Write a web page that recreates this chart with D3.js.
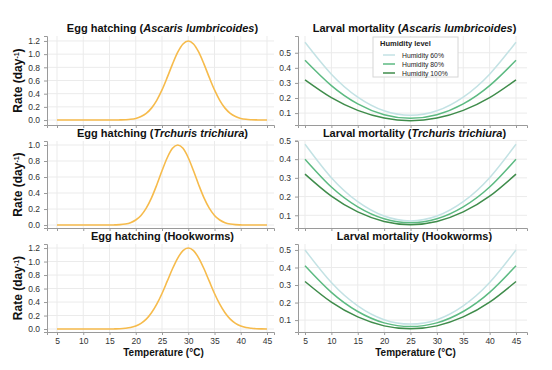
<!DOCTYPE html>
<html>
<head>
<meta charset="utf-8">
<script src="https://cdn.jsdelivr.net/npm/d3@7"></script>
<style>
  body { margin: 0; background: #fff; }
  svg { display: block; font-family: "Liberation Sans", Arial, sans-serif; }
</style>
</head>
<body>
<svg id="chart" width="552" height="370"></svg>
<script>
// temperatures (°C) for the hatching curves
const hatchTemps = [5,6,7,8,9,10,11,12,13,14,15,16,17,18,19,20,21,22,23,24,25,
  26,27,28,29,30,31,32,33,34,35,36,37,38,39,40,41,42,43,44,45];

const hatchAscaris = [0,0,0,0,0,0,0,0,0,0,0,0,0.002,0.005,0.011,0.025,0.053,0.102,0.181,0.299,0.457,
  0.647,0.848,1.029,1.154,1.2,1.154,1.029,0.848,0.647,0.457,0.299,0.181,0.102,0.053,0.025,0.011,0.005,0.002,0,0];
const hatchTrichuris = [0,0,0,0,0,0,0,0,0,0,0,0.002,0.005,0.013,0.030,0.063,0.120,0.211,0.339,0.501,0.678,
  0.841,0.958,1.0,0.958,0.841,0.678,0.501,0.339,0.211,0.120,0.063,0.030,0.013,0.005,0.002,0,0,0,0,0];
const hatchHookworm = [0,0,0,0,0,0,0,0,0,0,0,0.002,0.005,0.011,0.022,0.045,0.084,0.146,0.240,0.368,0.527,
  0.709,0.893,1.052,1.161,1.2,1.161,1.052,0.893,0.709,0.527,0.368,0.240,0.146,0.084,0.045,0.022,0.011,0.005,0.002,0];

// larval mortality, read every 5 °C
const mortTemps = [5,10,15,20,25,30,35,40,45];
const humidityLevels = ["Humidity 60%", "Humidity 80%", "Humidity 100%"];
const humidityColors = ["#c3e2e4", "#5cba82", "#3f8c4b"];

const mortAscaris60  = [0.57,0.358,0.206,0.115,0.085,0.115,0.206,0.358,0.57];
const mortAscaris80  = [0.45,0.282,0.161,0.089,0.065,0.089,0.161,0.282,0.45];
const mortAscaris100 = [0.32,0.202,0.118,0.067,0.05,0.067,0.118,0.202,0.32];

const mortTrichuris60  = [0.48,0.301,0.173,0.096,0.07,0.096,0.173,0.301,0.48];
const mortTrichuris80  = [0.40,0.251,0.145,0.081,0.06,0.081,0.145,0.251,0.40];
const mortTrichuris100 = [0.32,0.202,0.118,0.067,0.05,0.067,0.118,0.202,0.32];

const mortHookworm60  = [0.50,0.314,0.181,0.102,0.077,0.102,0.181,0.314,0.50];
const mortHookworm80  = [0.41,0.258,0.149,0.084,0.063,0.084,0.149,0.258,0.41];
const mortHookworm100 = [0.32,0.202,0.118,0.067,0.05,0.067,0.118,0.202,0.32];

const xTicks = [5,10,15,20,25,30,35,40,45];

const svg = d3.select("#chart");
const orange = "#f6bb4c";
const gridColor = "#ebebeb";
const axisColor = "#9a9a9a";

const rows = [
  { top: 36, bottom: 125, title: ["Egg hatching (", "Ascaris lumbricoides", ")"],
    mtitle: ["Larval mortality (", "Ascaris lumbricoides", ")"],
    hatch: hatchAscaris, hy: [-0.075, 1.275], hticks: [0,0.2,0.4,0.6,0.8,1.0,1.2],
    mort: [mortAscaris60, mortAscaris80, mortAscaris100], my: [0.021, 0.611], mticks: [0.1,0.2,0.3,0.4,0.5] },
  { top: 141, bottom: 228, title: ["Egg hatching (", "Trchuris trichiura", ")"],
    mtitle: ["Larval mortality (", "Trchuris trichiura", ")"],
    hatch: hatchTrichuris, hy: [-0.037, 1.05], hticks: [0,0.2,0.4,0.6,0.8,1.0],
    mort: [mortTrichuris60, mortTrichuris80, mortTrichuris100], my: [0.032, 0.497], mticks: [0.1,0.2,0.3,0.4,0.5] },
  { top: 244, bottom: 332, title: ["Egg hatching (Hookworms)"],
    mtitle: ["Larval mortality (Hookworms)"],
    hatch: hatchHookworm, hy: [-0.044, 1.26], hticks: [0,0.2,0.4,0.6,0.8,1.0,1.2],
    mort: [mortHookworm60, mortHookworm80, mortHookworm100], my: [0.032, 0.534], mticks: [0.1,0.2,0.3,0.4,0.5] }
];

const colL = { left: 47, right: 274, x5: 57, x45: 267 };
const colR = { left: 298, right: 527, x5: 305, x45: 516 };

function makeX(col) {
  const k = (col.x45 - col.x5) / 40;
  return d3.scaleLinear()
    .domain([5 - (col.x5 - col.left) / k, 45 + (col.right - col.x45) / k])
    .range([col.left, col.right]);
}

function title(g, parts, x, y) {
  const t = g.append("text")
    .attr("x", x).attr("y", y)
    .attr("text-anchor", "middle")
    .attr("font-size", 11).attr("font-weight", "bold")
    .attr("fill", "#111");
  parts.forEach((p, i) => {
    t.append("tspan").text(p).attr("font-style", i === 1 ? "italic" : null);
  });
}

function panel(col, row, yDomain, yTicks, yFmt, showXLabels) {
  const x = makeX(col);
  const y = d3.scaleLinear().domain(yDomain).range([row.bottom, row.top]);
  const g = svg.append("g");

  // grid
  g.append("g").selectAll("line").data(xTicks).join("line")
    .attr("x1", d => x(d)).attr("x2", d => x(d))
    .attr("y1", row.top).attr("y2", row.bottom)
    .attr("stroke", gridColor).attr("stroke-width", 1);
  g.append("g").selectAll("line").data(yTicks).join("line")
    .attr("x1", col.left).attr("x2", col.right)
    .attr("y1", d => y(d)).attr("y2", d => y(d))
    .attr("stroke", gridColor).attr("stroke-width", 1);

  // axes
  const yAxis = g.append("g")
    .attr("transform", `translate(${col.left},0)`)
    .call(d3.axisLeft(y).tickValues(yTicks).tickFormat(d3.format(yFmt)).tickSize(3).tickPadding(4));
  const xAxis = g.append("g")
    .attr("transform", `translate(0,${row.bottom})`)
    .call(d3.axisBottom(x).tickValues(xTicks).tickSize(3).tickPadding(3)
      .tickFormat(showXLabels ? d3.format("d") : ""));
  [yAxis, xAxis].forEach(a => {
    a.select(".domain").attr("stroke", axisColor);
    a.selectAll(".tick line").attr("stroke", axisColor);
    a.selectAll(".tick text").attr("font-size", 8.5).attr("fill", "#333")
      .attr("font-family", "'Liberation Sans', Arial, sans-serif");
  });
  return { g, x, y };
}

const lineGen = (x, y, curve) => d3.line()
  .x(d => x(d[0])).y(d => y(d[1])).curve(curve);

rows.forEach((row, ri) => {
  const last = ri === rows.length - 1;

  // left: egg hatching
  const L = panel(colL, row, row.hy, row.hticks, ".1f", last);
  L.g.append("path")
    .datum(hatchTemps.map((t, i) => [t, row.hatch[i]]))
    .attr("fill", "none").attr("stroke", orange).attr("stroke-width", 1.6)
    .attr("d", lineGen(L.x, L.y, d3.curveMonotoneX));
  title(svg, row.title, (colL.left + colL.right) / 2 + 2, row.top - 4);

  // right: larval mortality
  const R = panel(colR, row, row.my, row.mticks, ".1f", last);
  row.mort.forEach((vals, si) => {
    R.g.append("path")
      .datum(mortTemps.map((t, i) => [t, vals[i]]))
      .attr("fill", "none").attr("stroke", humidityColors[si]).attr("stroke-width", 1.5)
      .attr("d", lineGen(R.x, R.y, d3.curveNatural));
  });
  title(svg, row.mtitle, (colR.left + colR.right) / 2 + 2, row.top - 4);

  // y label
  const cy = (row.top + row.bottom) / 2;
  const yl = svg.append("text")
    .attr("transform", `translate(22,${cy}) rotate(-90)`)
    .attr("text-anchor", "middle")
    .attr("font-size", 12).attr("font-weight", "bold").attr("fill", "#111");
  yl.append("tspan").text("Rate (day");
  yl.append("tspan").text("-1").attr("font-size", 7).attr("baseline-shift", "super");
  yl.append("tspan").text(")");

  if (last) {
    [colL, colR].forEach(col => {
      svg.append("text")
        .attr("x", (col.left + col.right) / 2 + 3).attr("y", 356)
        .attr("text-anchor", "middle")
        .attr("font-size", 10).attr("font-weight", "bold").attr("fill", "#111")
        .text("Temperature (°C)");
    });
  }
});

// legend in top-right panel
const lg = svg.append("g").attr("transform", "translate(373,37)");
lg.append("rect").attr("width", 85).attr("height", 40)
  .attr("fill", "#fff").attr("stroke", "#d6d6d6");
lg.append("text").attr("x", 7).attr("y", 9)
  .attr("font-size", 7.5).attr("font-weight", "bold").attr("fill", "#222")
  .text("Humidity level");
humidityLevels.forEach((name, i) => {
  const yy = 18 + i * 9;
  lg.append("line").attr("x1", 10).attr("x2", 22).attr("y1", yy).attr("y2", yy)
    .attr("stroke", humidityColors[i]).attr("stroke-width", 1.5);
  lg.append("text").attr("x", 29).attr("y", yy + 2.5)
    .attr("font-size", 6.8).attr("fill", "#222").text(name);
});
</script>
</body>
</html>
